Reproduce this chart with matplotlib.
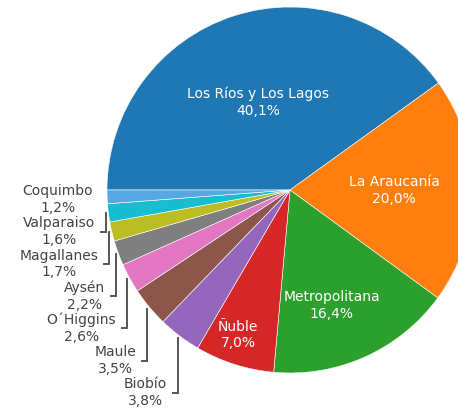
import matplotlib
matplotlib.use("Agg")
import matplotlib.pyplot as plt
import numpy as np

regions = ["Los Ríos y Los Lagos", "La Araucanía", "Metropolitana", "Ñuble",
           "Biobío", "Maule", "O´Higgins", "Aysén", "Magallanes",
           "Valparaiso", "Coquimbo"]
shares = [40.1, 20.0, 16.4, 7.0, 3.8, 3.5, 2.6, 2.2, 1.7, 1.6, 1.2]
colors = ["#1f77b4", "#ff7f0e", "#2ca02c", "#d62728", "#9467bd", "#8c564b",
          "#e377c2", "#7f7f7f", "#bcbd22", "#17becf", "#57a8e2"]

W, H = 458, 413
cx, cy, R = 290, H - 190, 183
# radial position and angle nudge of the labels drawn inside slices
inside_frac = [0.51, 0.57, 0.67, 0.84]
inside_shift = [2, 0, -4.6, -2]

fig = plt.figure(figsize=(W / 100, H / 100), dpi=100)
ax = fig.add_axes([0, 0, 1, 1])

wedges, _ = ax.pie(shares, colors=colors, startangle=180, counterclock=False,
                   center=(cx, cy), radius=R, frame=True,
                   wedgeprops=dict(linewidth=0.4, edgecolor="white"))
ax.set_xlim(0, W)
ax.set_ylim(0, H)
ax.set_aspect("equal")
ax.axis("off")


def pct(v):
    return f"{v:.1f}%".replace(".", ",")


fs = 10
for i, w in enumerate(wedges):
    mid = (w.theta1 + w.theta2) / 2
    txt = f"{regions[i]}\n{pct(shares[i])}"
    if i < len(inside_frac):
        f = inside_frac[i]
        a = np.deg2rad(mid + inside_shift[i])
        ax.text(cx + f * R * np.cos(a), cy + f * R * np.sin(a), txt,
                ha="center", va="center", color="white", fontsize=fs,
                linespacing=1.22)
        continue
    mid = np.deg2rad(mid)
    ex = cx + R * np.cos(mid)
    # outside labels stack downward from Coquimbo
    k = len(shares) - 1 - i
    ly = H - (199.5 + 32.2 * k)
    if k == 0:
        ax.text(ex - 14, ly, txt, ha="right", va="center", color="#444444",
                fontsize=fs, linespacing=1.22, multialignment="center")
        continue
    sx, sy = cx + 1.015 * R * np.cos(mid), cy + 1.015 * R * np.sin(mid)
    ax.plot([sx, sx, sx - 5], [sy, ly, ly], color="#555555", lw=1.4,
            solid_joinstyle="miter")
    ax.text(sx - 11, ly, txt, ha="right", va="center", color="#444444",
            fontsize=fs, linespacing=1.22, multialignment="center")

fig.savefig("out.png", dpi=100)
